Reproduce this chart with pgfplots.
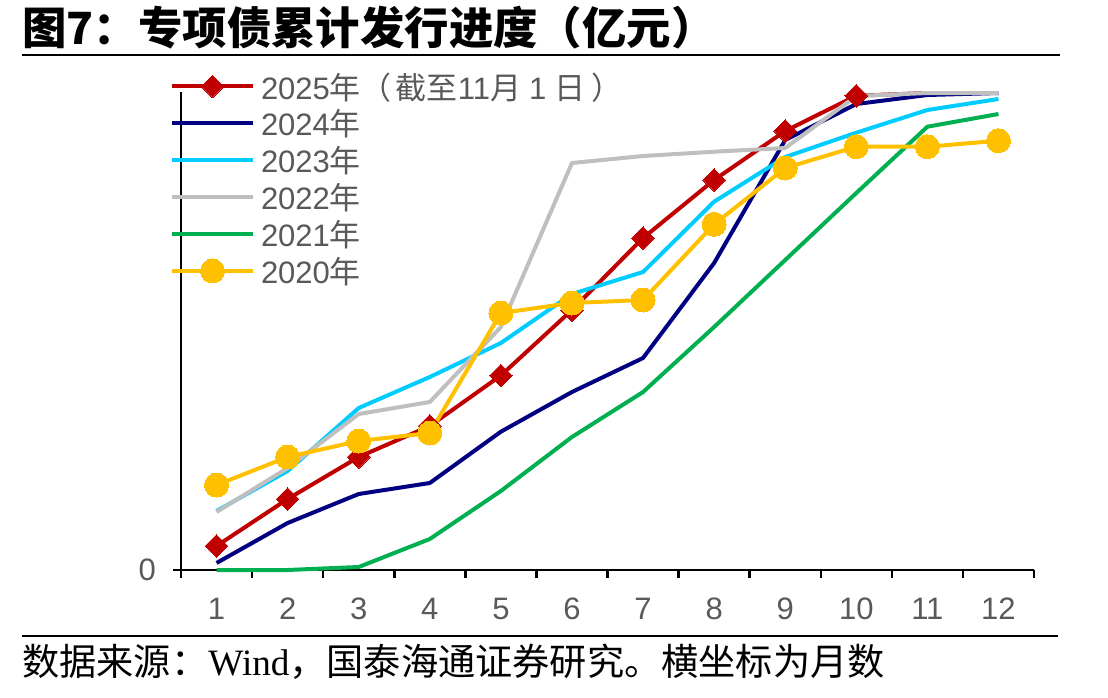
\documentclass[border=0pt]{standalone}
\usepackage{fontspec}
\setmainfont{Liberation Sans}
\newfontfamily\cjk{Noto Sans CJK SC}
\newfontfamily\serif{Liberation Serif}
\usepackage{pgfplots}
\pgfplotsset{compat=1.18}
\definecolor{c25}{HTML}{C00000}
\definecolor{c24}{HTML}{000080}
\definecolor{c23}{HTML}{00CCFF}
\definecolor{c22}{HTML}{BFBFBF}
\definecolor{c21}{HTML}{00B050}
\definecolor{c20}{HTML}{FFC000}
\definecolor{txt}{HTML}{595959}
\begin{document}
\begin{tikzpicture}
\path[use as bounding box] (0pt,0pt) rectangle (554pt,348.5pt);
\node[anchor=base west, inner sep=0pt, font=\cjk\bfseries\fontsize{22.2}{24}\selectfont] at (11pt,326pt) {图7：专项债累计发行进度（亿元）};
\draw[line width=1pt] (11pt,321pt) -- (530pt,321pt);
\draw[line width=1pt] (11pt,30.5pt) -- (529pt,30.5pt);
\node[anchor=base west, inner sep=0pt, font=\fontsize{18.6}{20}\selectfont] at (11pt,11pt) {{\cjk 数据来源：}{\serif Wind}{\cjk ，国泰海通证券研究。横坐标为月数}};
\begin{axis}[
  at={(90.5pt,63.5pt)}, anchor=south west,
  width=426.5pt, height=239pt, scale only axis,
  xmin=0.5, xmax=12.5, ymin=0, ymax=39674,
  scaled y ticks=false,
  axis x line*=bottom, axis y line*=left,
  axis line style={line width=1.25pt, black, -},
  xtick={1,...,12}, minor xtick={0.5,1.5,...,12.5},
  ytick={0}, minor ytick={0},
  major tick length=0pt, minor tick length=4pt, tick align=outside,
  tick style={line width=1.25pt, black},
  ticklabel style={font=\fontsize{15.5}{18}\selectfont, text=txt},
  /pgf/number format/assume math mode=true,
  xticklabel style={yshift=-10.5pt},
  yticklabel style={xshift=-9pt},
  clip=false,
  legend cell align=left,
  legend image code/.code={\path[draw=none,fill=none] (0pt,0pt) rectangle (40.5pt,1pt); \draw[overlay,mark repeat=2,mark phase=2,#1] plot coordinates {(0pt,1.8pt)(20.25pt,1.8pt)(40.5pt,1.8pt)};},
  legend style={at={(0,1)}, anchor=north west, xshift=-4.5pt, yshift=8.5pt, draw=none, fill=none, inner sep=0pt, outer sep=0pt, row sep=3.45pt, column sep=4pt, font=\fontsize{15.5}{18}\selectfont, text=txt, nodes={inner sep=0pt, text height=12pt, text depth=3pt}},
  every axis plot/.append style={line width=2pt, line join=round},
]
\addplot[c25, forget plot] coordinates {(10,39367)(11,39591)};
\addplot[c25, mark=square*, mark size=4pt, mark options={rotate=45, solid, fill=c25, draw=c25, line width=0pt}] coordinates {(1,1992)(2,5893)(3,9379)(4,11952)(5,16144)(6,21580)(7,27556)(8,32370)(9,36437)(10,39367)};
\addlegendentry{2025{\cjk 年（\hspace{2pt}截至}11{\cjk 月}\hspace{4pt}1\hspace{4pt}{\cjk 日\hspace{3pt}）}}
\addplot[c24] coordinates {(1,581)(2,3901)(3,6308)(4,7221)(5,11479)(6,14774)(7,17596)(8,25481)(9,35690)(10,38678)(11,39425)(12,39591)};
\addlegendentry{2024{\cjk 年}}
\addplot[c23] coordinates {(1,4897)(2,8217)(3,13446)(4,16019)(5,18841)(6,22908)(7,24734)(8,30569)(9,34279)(10,36296)(11,38180)(12,39093)};
\addlegendentry{2023{\cjk 年}}
\addplot[c22] coordinates {(1,4814)(2,8466)(3,12948)(4,13944)(5,20169)(6,33781)(7,34362)(8,34719)(9,35026)(10,39342)(11,39591)(12,39591)};
\addlegendentry{2022{\cjk 年}}
\addplot[c21] coordinates {(1,0)(2,0)(3,249)(4,2573)(5,6557)(6,11039)(7,14774)(8,20169)(9,25730)(10,31291)(11,36794)(12,37848)};
\addlegendentry{2021{\cjk 年}}
\addplot[c20, mark=*, mark size=6pt, mark options={solid, fill=c20, draw=c20, line width=0pt}] coordinates {(1,7055)(2,9379)(3,10707)(4,11371)(5,21331)(6,22161)(7,22410)(8,28693)(9,33366)(10,35134)(11,35134)(12,35632)};
\addlegendentry{2020{\cjk 年}}
\end{axis}
\end{tikzpicture}
\end{document}
